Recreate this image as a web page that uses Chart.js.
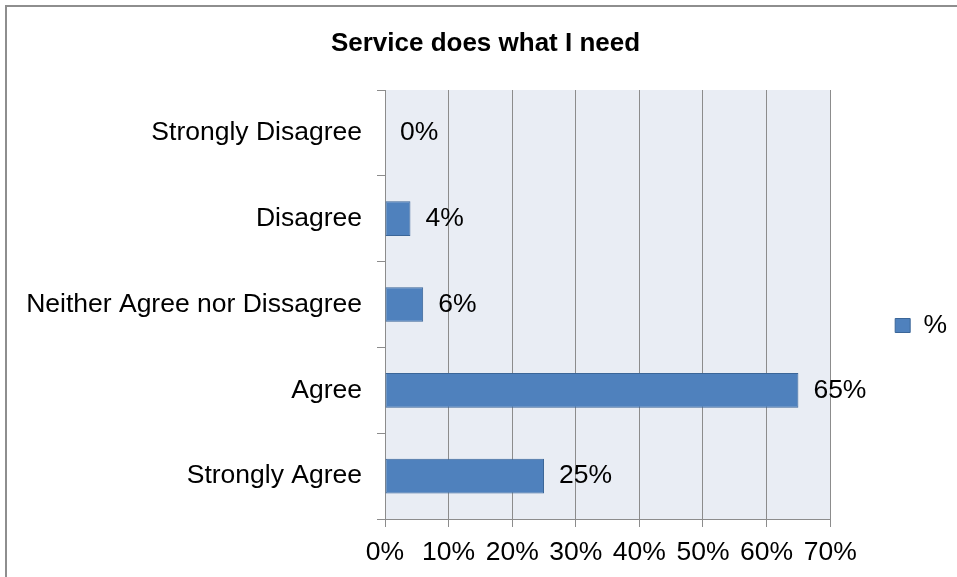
<!DOCTYPE html>
<html>
<head>
<meta charset="utf-8">
<title>Service does what I need</title>
<script src="https://cdn.jsdelivr.net/npm/chart.js@4/dist/chart.umd.min.js"></script>
<style>
  html, body { margin: 0; padding: 0; background: #ffffff; }
  #wrap { width: 957px; height: 577px; }
</style>
</head>
<body>
<div id="wrap"><canvas id="chart" width="957" height="577"></canvas></div>
<script>
// Survey answers, in the order they are listed down the axis
const categories = [
  'Strongly Disagree',
  'Disagree',
  'Neither Agree nor Dissagree',
  'Agree',
  'Strongly Agree'
];
const seriesName = '%';
const percentValues = [0, 4, 6, 65, 25];
const axisTicks = [0, 10, 20, 30, 40, 50, 60, 70];

const FONT = '"Liberation Sans", Arial, Helvetica, sans-serif';
const GRID = '#8c8c8c';
const PAD_LEFT = 14;

// Light panel behind the bars plus the frame line on the left and top
const backdrop = {
  id: 'backdrop',
  beforeDraw(chart) {
    const { ctx, chartArea: a } = chart;
    ctx.save();
    ctx.fillStyle = '#e9edf4';
    ctx.fillRect(a.left, a.top, a.right - a.left, a.bottom - a.top);
    ctx.strokeStyle = '#8e8e8e';
    ctx.lineWidth = 2;
    ctx.beginPath();
    ctx.moveTo(6, chart.height);
    ctx.lineTo(6, 6);
    ctx.lineTo(chart.width, 6);
    ctx.stroke();
    ctx.restore();
  }
};

// Percentage written just past the end of each bar
const valueLabels = {
  id: 'valueLabels',
  afterDatasetsDraw(chart) {
    const { ctx } = chart;
    const meta = chart.getDatasetMeta(0);
    const values = chart.data.datasets[0].data;
    ctx.save();
    ctx.font = '26.5px ' + FONT;
    ctx.fillStyle = '#000000';
    ctx.textAlign = 'left';
    ctx.textBaseline = 'middle';
    meta.data.forEach((bar, i) => {
      ctx.fillText(values[i] + '%', bar.x + 15, bar.y);
    });
    ctx.restore();
  }
};

new Chart(document.getElementById('chart'), {
  type: 'bar',
  data: {
    labels: categories,
    datasets: [{
      label: seriesName,
      data: percentValues,
      backgroundColor: '#4f81bd',
      borderColor: '#3b6698',
      borderWidth: 1,
      borderSkipped: false,
      barPercentage: 0.405,
      categoryPercentage: 1
    }]
  },
  options: {
    indexAxis: 'y',
    responsive: false,
    animation: false,
    devicePixelRatio: 1,
    layout: { padding: { left: PAD_LEFT, right: 0, top: 0, bottom: 0 } },
    plugins: {
      title: {
        display: true,
        text: 'Service does what I need',
        color: '#000000',
        font: { family: FONT, size: 26, weight: 'bold' },
        padding: { top: 28, bottom: 30.8 }
      },
      legend: {
        display: true,
        position: 'right',
        maxWidth: 127,
        title: { display: true, text: '', font: { size: 10 }, padding: { top: 31, bottom: 31 } },
        labels: {
          color: '#000000',
          font: { family: FONT, size: 26.5 },
          boxWidth: 15,
          boxHeight: 14,
          padding: 65
        }
      },
      tooltip: { enabled: false }
    },
    scales: {
      x: {
        type: 'linear',
        min: axisTicks[0],
        max: axisTicks[axisTicks.length - 1],
        afterBuildTicks(scale) {
          scale.ticks = axisTicks.map(v => ({ value: v }));
        },
        afterFit(scale) { scale.height = 58; },
        ticks: {
          color: '#000000',
          font: { family: FONT, size: 26.5 },
          padding: 10,
          maxRotation: 0,
          callback: v => v + '%'
        },
        grid: { color: GRID, lineWidth: 1, tickLength: 8, drawOnChartArea: true, drawTicks: true },
        border: { display: true, color: GRID, width: 1 }
      },
      y: {
        type: 'category',
        afterFit(scale) { scale.width = 385 - PAD_LEFT; },
        ticks: {
          color: '#000000',
          font: { family: FONT, size: 26.5 },
          padding: 15
        },
        grid: { color: GRID, lineWidth: 1, tickLength: 8, drawOnChartArea: false, drawTicks: true, offset: true },
        border: { display: true, color: GRID, width: 1 }
      }
    }
  },
  plugins: [backdrop, valueLabels]
});
</script>
</body>
</html>
